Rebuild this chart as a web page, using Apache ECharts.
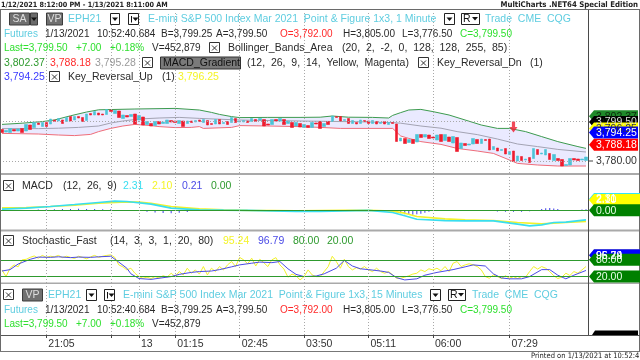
<!DOCTYPE html>
<html>
<head>
<meta charset="utf-8">
<script src="https://cdn.jsdelivr.net/npm/echarts@6.0.0/dist/echarts.min.js"></script>
<style>
html,body{margin:0;padding:0;background:#ffffff;overflow:hidden;}
#chart{width:640px;height:360px;}
</style>
</head>
<body>
<div id="chart"></div>
<script>
// ---------------- data ----------------
const barOpen = [
 3795.75,3794.5,3794.25,3795.75,3795.0,3796.25,3795.0,3798.0,3796.75,3799.0,
 3797.25,3799.25,3798.5,3800.5,3800.0,3800.5,3799.75,3802.25,3800.5,3802.25,
 3801.75,3800.25,3803.75,3803.0,3804.0,3803.5,3803.25,3805.5,3803.75,3805.0,
 3801.25,3802.75,3802.25,3803.5,3800.5,3802.0,3798.25,3798.75,3797.75,3799.75,
 3798.75,3798.75,3800.25,3800.0,3798.75,3800.0,3798.75,3800.0,3799.5,3800.5,
 3799.25,3800.25,3798.75,3798.5,3800.75,3798.75,3799.75,3799.25,3801.25,3799.5,
 3799.5,3800.0,3799.75,3800.75,3800.5,3800.75,3798.5,3798.25,3800.75,3800.0,
 3800.75,3798.75,3799.25,3797.5,3798.75,3796.75,3797.75,3796.75,3799.0,3799.75,
 3797.25,3799.75,3799.75,3802.25,3802.25,3800.25,3801.25,3798.75,3799.25,3798.75,
 3800.25,3800.0,3798.75,3799.75,3798.75,3799.75,3798.25,3799.25,3798.5,3790.0,
 3791.25,3789.25,3790.75,3789.5,3793.25,3792.0,3793.0,3792.0,3790.5,3793.25,
 3790.25,3792.0,3789.0,3791.75,3786.25,3788.75,3788.0,3788.5,3790.75,3788.75,
 3790.75,3791.0,3785.75,3786.5,3785.25,3786.25,3783.25,3785.0,3780.0,3782.25,
 3780.5,3781.75,3781.25,3785.75,3783.5,3783.0,3783.75,3780.25,3781.25,3780.75,
 3777.75,3778.0,3781.25,3781.0,3780.5,3780.25
];
const barClose = [
 3794.25,3795.25,3796.25,3795.0,3796.0,3794.25,3798.25,3795.75,3799.25,3798.25,
 3799.25,3797.25,3801.0,3799.75,3801.25,3798.75,3801.75,3800.0,3802.25,3801.5,
 3799.75,3803.5,3803.0,3804.75,3803.0,3803.0,3805.75,3804.75,3805.25,3801.75,
 3803.0,3802.0,3803.25,3798.5,3802.75,3798.0,3799.75,3797.5,3799.75,3798.5,
 3799.5,3800.5,3799.5,3799.25,3800.25,3797.25,3800.0,3799.25,3800.25,3799.75,
 3800.75,3798.0,3798.25,3800.75,3798.5,3799.25,3798.25,3801.75,3799.25,3800.0,
 3800.25,3799.25,3801.25,3799.75,3801.25,3797.5,3798.0,3800.75,3800.0,3801.25,
 3798.25,3800.0,3796.75,3799.25,3797.0,3798.25,3796.75,3799.25,3798.5,3796.25,
 3798.75,3798.25,3802.5,3801.75,3800.0,3800.75,3798.75,3800.25,3798.5,3800.5,
 3799.75,3798.75,3800.25,3798.5,3799.25,3798.5,3799.25,3798.75,3789.75,3791.5,
 3788.75,3790.75,3788.75,3793.25,3791.75,3793.25,3791.25,3791.5,3793.0,3789.75,
 3793.25,3789.75,3792.25,3784.75,3789.0,3787.75,3788.5,3791.25,3788.75,3791.0,
 3790.25,3785.5,3787.25,3785.0,3785.75,3783.5,3784.75,3779.75,3782.5,3780.25,
 3781.0,3779.25,3786.25,3783.25,3784.0,3785.75,3780.75,3783.25,3780.25,3777.5,
 3778.25,3781.25,3780.5,3780.25,3781.0,3782.0
];
// time-axis ticks (bar index) and their labels
const tickIndex = [11, 27, 34, 43, 59, 75, 91, 107, 126];
const tickLabels = ['21:05', '', '13', '01:15', '02:45', '03:50', '05:11', '06:00', '07:29'];
const priceGrid = [3800, 3780];
const priceAxisLabels = [3780];

// Bollinger bands [bar index, value]
const bbUpper = [[0,3798.3],[5,3798.9],[10,3799.7],[13,3800.5],[17,3802.6],[21,3804.5],[24,3805.6],[33,3806.0],
 [43,3806.3],[49,3805.5],[52,3804.3],[54,3803.3],[57,3802.2],[59,3801.7],[66,3801.8],[74,3801.8],[79,3801.9],
 [82,3802.5],[86,3801.9],[92,3801.8],[96,3801.5],[97,3802.8],[99,3804.2],[101,3805.5],[104,3805.8],[107,3804.7],
 [111,3803.0],[115,3800.5],[119,3798.0],[123,3796.3],[126,3796.3],[130,3794.7],[134,3792.2],[138,3789.7],
 [143,3787.2],[145,3786.3]];
const bbLower = [[0,3793.8],[9,3793.5],[14,3793.0],[18,3792.7],[22,3793.3],[24,3794.7],[27,3796.3],[30,3797.5],
 [33,3798.3],[37,3797.7],[39,3797.2],[43,3796.7],[47,3796.8],[49,3797.2],[50,3796.3],[57,3796.8],[59,3797.7],
 [66,3797.5],[74,3797.2],[79,3796.8],[84,3796.3],[97,3796.3],[99,3792.5],[101,3791.3],[104,3789.7],[109,3788.3],
 [113,3786.3],[118,3785.0],[122,3783.8],[126,3780.5],[128,3778.8],[133,3778.0],[138,3777.5],[145,3777.5]];
const bbMid = [[0,3796.2],[9,3796.2],[14,3796.4],[19,3796.8],[24,3797.5],[27,3799.0],[30,3800.0],[34,3801.0],
 [39,3801.5],[44,3801.8],[49,3801.3],[54,3800.9],[59,3800.5],[67,3800.2],[74,3800.0],[81,3799.8],[89,3799.6],
 [97,3799.2],[99,3798.9],[104,3797.5],[109,3796.4],[113,3794.7],[118,3793.2],[123,3791.0],[128,3788.5],
 [133,3787.2],[138,3785.8],[145,3784.5]];
const keyReversalDn = [[127, 3794.25]];

// MACD [bar index, value]
const macdLine = [[0,0.24],[6,0.45],[12,0.78],[18,1.18],[24,1.6],[28,1.88],[31,1.8],[37,1.27],[42,0.45],[49,0.1],
 [55,0.04],[61,0.0],[73,-0.24],[79,-0.2],[85,-0.1],[91,0.0],[97,-0.45],[100,-1.1],[103,-1.8],[110,-2.1],
 [115,-2.14],[122,-2.14],[128,-2.8],[131,-3.16],[134,-2.96],[137,-2.49],[140,-2.4],[145,-1.94]];
const macdSignal = [[0,0.5],[6,0.55],[12,0.78],[18,1.05],[24,1.46],[31,1.73],[34,1.67],[37,1.46],[42,0.78],
 [49,0.3],[55,0.1],[61,0.0],[73,-0.1],[85,0.0],[91,0.0],[97,-0.16],[100,-0.57],[103,-1.26],[110,-1.73],
 [115,-1.94],[122,-2.08],[128,-2.49],[134,-2.76],[140,-2.49],[145,-2.28]];
const macdHist = [[9,0.15],[11,0.2],[13,0.25],[15,0.3],[17,0.3],[19,0.35],[21,0.3],[23,0.3],[25,0.25],[27,0.2],
 [36,-0.3],[38,-0.45],[40,-0.55],[42,-0.6],[44,-0.5],[46,-0.35],
 [98,-0.4],[99,-0.6],[100,-0.8],[101,-0.9],[102,-0.9],[103,-0.8],[104,-0.7],[105,-0.5],[106,-0.3],
 [113,-0.15],[115,-0.15],[123,-0.25],[125,-0.3],[127,-0.3],[129,-0.3],[131,-0.2],
 [134,0.3],[135,0.45],[136,0.5],[137,0.4],[138,0.3],[144,0.15],[145,0.2]];

// Stochastic fast
const stochK = [44,20,50,62,55,80,82,89,94,86,96,89,93,91,96,88,93,89,85,93,
 89,84,91,96,89,93,96,98,89,62,55,44,50,32,20,14,18,13,20,15,
 23,18,32,20,38,26,50,32,44,29,56,26,50,38,56,44,62,74,56,89,
 80,66,86,58,82,70,56,80,88,62,47,18,29,23,8,20,44,26,20,
 20,38,56,93,74,50,82,56,44,52,47,56,44,38,50,38,32,38,26,14,
 14,18,23,29,32,44,38,48,44,50,41,56,38,68,74,56,62,66,62,
 56,44,20,14,26,20,13,23,14,20,13,20,18,38,56,47,56,50,38,23,
 13,18,32,24,38,32,44,56];
const stochD = [[0,40],[2,45],[4,65],[7,82],[9,90],[12,89],[14,91],[17,88],[19,90],[22,89],[24,91],[27,93],
 [29,72],[31,50],[32,30],[34,13],[37,10],[39,14],[42,20],[44,28],[47,35],[49,38],[52,40],[54,45],[57,55],
 [59,62],[62,68],[64,72],[67,70],[69,74],[71,48],[73,28],[75,20],[78,22],[80,30],[83,50],[85,78],[87,58],
 [89,48],[91,45],[94,40],[96,35],[98,16],[100,8],[103,12],[105,25],[108,35],[110,40],[112,45],[115,55],
 [117,62],[120,58],[122,30],[124,15],[126,12],[129,12],[131,20],[134,45],[136,45],[138,25],[140,12],
 [142,25],[145,42]];
const stochLevels = [80, 20];

// right-axis value tags
const mainTagValues = [3802.37, 3799.50, 3796.25, 3794.25, 3788.18];
const macdTagValues = [2.31, 2.10, 0.00];
const stochTagValues = [95.24, 96.79, 80.00, 20.00];

// ---------------- styles ----------------
const FONT = '"Liberation Sans", Arial, sans-serif';
const NARROW = '"Liberation Sans Narrow", "DejaVu Sans Condensed", "Liberation Sans", sans-serif';
const FS = 10.5;
const FQ = 10;
const C_UP = '#4cc4d6', C_DN = '#ee1c2e';
const C_CYAN_TXT = '#5fcde0', C_DARK = '#2a2a2a', C_RED = '#ff2a2a', C_LIME = '#2fe02f';
const C_GREEN = '#2e9a2e', C_BLUE = '#3a3aff', C_YEL = '#f4f428', C_GRAY = '#9a9a9a';

const chart = echarts.init(document.getElementById('chart'), null, {renderer: 'canvas'});
const cats = barOpen.map((_, i) => String(i));
const candleData = barOpen.map((o, i) => [o, barClose[i], Math.min(o, barClose[i]), Math.max(o, barClose[i])]);
const isTick = (idx) => tickIndex.indexOf(idx) >= 0;
const vGrid = tickIndex.map(i => ({xAxis: i}));
const dotted = {color: '#a8a8a8', type: [1, 2], width: 1};

const grids = [
  {left: 0, top: 11, width: 588, height: 162},
  {left: 0, top: 176, width: 588, height: 53},
  {left: 0, top: 232, width: 588, height: 51},
  {left: 0, top: 284, width: 588, height: 51}
].map(g => Object.assign({outerBoundsMode: 'none', containLabel: false, show: false}, g));

const xAxes = [0, 1, 2, 3].map(gi => ({
  type: 'category', gridIndex: gi, data: cats, boundaryGap: true,
  axisLine: {show: gi === 3, lineStyle: {color: '#555', width: 1}},
  axisTick: {show: gi === 3, alignWithLabel: true, interval: isTick, length: 3, lineStyle: {color: '#444'}},
  axisLabel: {show: gi === 3, interval: isTick, align: 'left', margin: 4, padding: [0, 0, 0, 2],
    color: '#333', fontSize: FS, fontFamily: FONT,
    formatter: (v, idx) => tickLabels[tickIndex.indexOf(idx)] || ''},
  splitLine: {show: false}
}));
const yAxes = [
  {type: 'value', gridIndex: 0, min: 3774, max: 3855, show: false},
  {type: 'value', gridIndex: 1, min: -3.8, max: 7.0, show: false},
  {type: 'value', gridIndex: 2, min: -3, max: 180, show: false},
  {type: 'value', gridIndex: 3, min: 0, max: 1, show: false}
];
const gridMarks = (extra) => ({silent: true, symbol: 'none', label: {show: false}, lineStyle: dotted,
  data: vGrid.concat(extra || [])});
const lineS = (data, color, xi, width, z) => ({type: 'line', data: data, xAxisIndex: xi, yAxisIndex: xi,
  symbol: 'none', silent: true, z: z || 2, lineStyle: {color: color, width: width || 1}, itemStyle: {color: color}});

const series = [
  {type: 'custom', xAxisIndex: 0, yAxisIndex: 0, silent: true, z: 1, data: [bbUpper[0]],
   renderItem: (params, api) => {
     const pts = bbUpper.map(p => api.coord(p)).concat(bbLower.slice().reverse().map(p => api.coord(p)));
     return {type: 'polygon', shape: {points: pts}, style: {fill: 'rgba(128,128,255,0.17)'}};
   }},
  Object.assign(lineS(bbLower, '#ef6d7a', 0), {markLine: gridMarks(priceGrid.map(v => ({yAxis: v})))}),
  lineS(bbUpper, '#3d9b4f', 0),
  lineS(bbMid, '#a3a3b3', 0),
  {type: 'candlestick', xAxisIndex: 0, yAxisIndex: 0, data: candleData, barWidth: 3, silent: true, z: 3,
   itemStyle: {color: C_UP, color0: C_DN, borderColor: C_UP, borderColor0: C_DN, borderWidth: 0.6}},
  {type: 'scatter', xAxisIndex: 0, yAxisIndex: 0, data: keyReversalDn, z: 4, silent: true,
   symbol: 'path://M3,0L7,0L7,5L10,5L5,10L0,5L3,5Z', symbolSize: [8, 11], symbolOffset: [0, '-50%'],
   itemStyle: {color: C_DN}},
  // MACD pane
  Object.assign({type: 'bar', xAxisIndex: 1, yAxisIndex: 1, data: macdHist, barWidth: 1, silent: true, z: 2,
   itemStyle: {color: '#3c3ce6'}}, {markLine: {silent: true, symbol: 'none', label: {show: false},
   data: [{yAxis: 0, lineStyle: {color: '#2e9a2e', type: 'solid', width: 1}}].concat(vGrid.map(v => Object.assign({lineStyle: dotted}, v)))}}),
  lineS(macdSignal, '#f2f22a', 1, 1.6, 3),
  lineS(macdLine, '#38def0', 1, 1.6, 3),
  // Stochastic pane
  Object.assign(lineS(stochK, '#f2f22a', 2, 1, 3), {markLine: {silent: true, symbol: 'none', label: {show: false},
   data: stochLevels.map(v => ({yAxis: v, lineStyle: {color: '#2e9a2e', type: 'solid', width: 1}}))
     .concat(vGrid.map(v => Object.assign({lineStyle: dotted}, v)))}}),
  lineS(stochD, '#4b4be6', 2, 1, 4),
  // 15-minute pane (empty)
  Object.assign(lineS([], '#000', 3), {markLine: gridMarks()})
];

chart.setOption({
  animation: false,
  backgroundColor: '#ffffff',
  grid: grids, xAxis: xAxes, yAxis: yAxes, series: series
});

// ---------------- decorations (header texts, tags, frame) ----------------
const G = [];
function txt(x, y, s, color, opts) {
  opts = opts || {};
  G.push({type: 'text', x: x, y: y, silent: true, z: 100,
    style: {text: s, fill: color, font: (opts.weight ? opts.weight + ' ' : '') + (opts.size || FS) + 'px ' + (opts.family || FONT),
      textAlign: opts.align || 'left', textVerticalAlign: 'middle', align: opts.align || 'left', verticalAlign: 'middle'}});
}
function rect(x, y, w, h, fill, stroke, z) {
  G.push({type: 'rect', silent: true, z: z || 90, shape: {x: x, y: y, width: w, height: h},
    style: {fill: fill, stroke: stroke || null, lineWidth: 1}});
}
function line(x1, y1, x2, y2, color, w, z) {
  G.push({type: 'line', silent: true, z: z || 95, shape: {x1: x1, y1: y1, x2: x2, y2: y2},
    style: {stroke: color, lineWidth: w || 1}});
}
function tri(cx, cy, color) {
  G.push({type: 'polygon', silent: true, z: 96, shape: {points: [[cx - 3, cy - 1.5], [cx + 3, cy - 1.5], [cx, cy + 2]]},
    style: {fill: color}});
}
function checkbox(x, y) {
  rect(x + 0.5, y - 5.5, 10, 10, '#fff', '#333');
  line(x + 3, y - 2.5, x + 8, y + 2.5, '#333');
  line(x + 8, y - 2.5, x + 3, y + 2.5, '#333');
}
function ddbox(x, y, w, kind) {
  rect(x + 0.5, y - 5.5, w, 11, '#fff', '#222');
  if (kind === 'bar') { line(x + 3.5, y - 3, x + 3.5, y + 3.5, '#111'); tri(x + w - 2.5, y, '#111'); }
  else if (kind === 'R') { txt(x + 2, y + 0.5, 'R', '#111'); tri(x + w - 4, y - 0.5, '#111'); }
  else tri(x + w / 2 + 0.5, y, '#111');
}
function grayBox(x, y, w, label) {
  rect(x + 0.5, y - 6, w, 12, '#707070', '#3c3c3c');
  txt(x + w / 2 + 0.5, y + 0.5, label, '#dedede', {align: 'center'});
}
function tag(y, label, bg, fg, x0, x1) {
  G.push({type: 'polygon', silent: true, z: 110, shape: {points: [[x0, y], [x0 + 5, y - 6], [x1, y - 6], [x1, y + 6], [x0 + 5, y + 6]]},
    style: {fill: bg}});
  G.push({type: 'text', x: x0 + 7, y: y + 0.5, silent: true, z: 111,
    style: {text: label, fill: fg, font: FS + 'px ' + FONT, textAlign: 'left', textVerticalAlign: 'middle', align: 'left', verticalAlign: 'middle'}});
}
function quoteLines(y2, y3) {
  const q = {size: FQ};
  txt(4, y2, 'Futures', C_CYAN_TXT, q);
  txt(45, y2, '1/13/2021', C_DARK, q);
  txt(97, y2, '10:52:40.684', C_DARK, q);
  txt(161, y2, 'B=3,799.25', C_DARK, q);
  txt(216, y2, 'A=3,799.50', C_DARK, q);
  txt(280, y2, 'O=3,792.00', C_RED, q);
  txt(343, y2, 'H=3,805.00', C_DARK, q);
  txt(402, y2, 'L=3,776.50', C_DARK, q);
  txt(460, y2, 'C=3,799.50', C_LIME, q);
  txt(4, y3, 'Last=3,799.50', C_LIME, q);
  txt(76, y3, '+7.00', C_LIME, q);
  txt(110, y3, '+0.18%', C_LIME, q);
  txt(152, y3, 'V=452,879', C_DARK, q);
}

// frame & separators
line(0, 9.5, 640, 9.5, '#6a6a6a');
line(0.5, 9.5, 0.5, 351, '#6a6a6a');
line(639.5, 9.5, 639.5, 351, '#6a6a6a');
line(588.5, 10, 588.5, 335, '#4a4a4a');
rect(0, 173, 640, 2, '#a9a9a9', null, 92);
rect(0, 229.5, 640, 2, '#a9a9a9', null, 92);
rect(0, 282.5, 640, 1.5, '#a9a9a9', null, 92);
line(588, 335.5, 640, 335.5, '#555');
line(0, 351.5, 640, 351.5, '#777');

// top caption
txt(1, 5, '1/12/2021 8:12:00 PM - 1/13/2021 8:11:00 AM', '#222', {size: 7.2, weight: 'bold', family: NARROW});
txt(638, 5, 'MultiCharts .NET64 Special Edition', '#222', {size: 7.8, weight: 'bold', family: NARROW, align: 'right'});

// main pane header
grayBox(9, 19, 20, 'SA');
rect(30.5, 13, 7, 12, '#6a6a6a', '#3c3c3c'); tri(34, 19, '#111');
grayBox(46, 19, 16, 'VP');
txt(68, 19, 'EPH21', C_CYAN_TXT);
ddbox(110, 19, 9);
ddbox(128, 19, 10, 'bar');
txt(148, 19, 'E-mini S&P 500 Index Mar 2021  Point & Figure 1x3, 1 Minute', C_CYAN_TXT);
ddbox(444, 19, 10);
ddbox(461, 19, 18, 'R');
txt(485, 19, 'Trade  CME  CQG', C_CYAN_TXT);
quoteLines(34, 48);
checkbox(209, 48);
txt(228, 48, 'Bollinger_Bands_Area', C_DARK);
txt(342, 48, '(20,  2,  -2,  0,  128,  128,  255,  85)', C_DARK);
txt(4, 63, '3,802.37', C_GREEN);
txt(50, 63, '3,788.18', C_RED);
txt(95, 63, '3,795.28', C_GRAY);
checkbox(142, 63);
rect(160.5, 57, 80, 12, '#7a7a7a', '#333');
txt(163, 63.5, 'MACD_Gradient', '#111');
txt(247, 63, '(12,  26,  9,  14,  Yellow,  Magenta)', C_DARK);
checkbox(418, 63);
txt(437, 63, 'Key_Reversal_Dn', C_DARK);
txt(530, 63, '(1)', C_DARK);
txt(4, 77, '3,794.25', C_BLUE);
checkbox(49, 77);
txt(68, 77, 'Key_Reversal_Up', C_DARK);
txt(162, 77, '(1)', C_DARK);
txt(178, 77, '3,796.25', C_YEL);

// MACD header
checkbox(3, 186);
txt(22, 186, 'MACD', C_DARK);
txt(63, 186, '(12,  26,  9)', C_DARK);
txt(123, 186, '2.31', '#38def0');
txt(152, 186, '2.10', C_YEL);
txt(182, 186, '0.21', '#4b4be6');
txt(211, 186, '0.00', C_GREEN);

// Stochastic header
checkbox(3, 241);
txt(22, 241, 'Stochastic_Fast', C_DARK);
txt(110, 241, '(14,  3,  3,  1,  20,  80)', C_DARK);
txt(223, 241, '95.24', C_YEL);
txt(258, 241, '96.79', '#4b4be6');
txt(293, 241, '80.00', C_GREEN);
txt(327, 241, '20.00', C_GREEN);

// 15-minute pane header
checkbox(3, 295);
grayBox(22, 295, 20, 'VP');
txt(48, 295, 'EPH21', C_CYAN_TXT);
ddbox(86, 295, 10);
ddbox(104, 295, 10, 'bar');
txt(123, 295, 'E-mini S&P 500 Index Mar 2021  Point & Figure 1x3, 15 Minutes', C_CYAN_TXT);
ddbox(430, 295, 10);
ddbox(448, 295, 17, 'R');
txt(472, 295, 'Trade  CME  CQG', C_CYAN_TXT);
quoteLines(310, 324);

// footer
txt(531, 356, 'Printed on 1/13/2021 at 10:52:41', '#222', {size: 7.5, family: NARROW});

// right price axis label
priceAxisLabels.forEach(v => {
  const y = chart.convertToPixel({yAxisIndex: 0}, v);
  line(588, y, 593, y, '#444');
  txt(596, y, v.toLocaleString('en-US', {minimumFractionDigits: 2}), '#333');
});
// value tags
const fmt = v => v.toLocaleString('en-US', {minimumFractionDigits: 2, maximumFractionDigits: 2});
const mainTagStyle = [['#1f8a2a', '#0b2a0b'], ['#000000', '#dddddd'], ['#ffff00', '#333333'], ['#0000ff', '#ffffff'], ['#ff0000', '#ffffff']];
mainTagValues.forEach((v, k) => tag(chart.convertToPixel({yAxisIndex: 0}, v), fmt(v), mainTagStyle[k][0], mainTagStyle[k][1], 589, 638));
const macdTagStyle = [['#33e6f5', '#ffffff'], ['#ffff00', '#ffffff'], ['#008000', '#e8ffe8']];
macdTagValues.forEach((v, k) => tag(chart.convertToPixel({yAxisIndex: 1}, v), fmt(v), macdTagStyle[k][0], macdTagStyle[k][1], 589, 640));
const stochTagStyle = [['#ffff00', '#ffffff'], ['#0000ff', '#ffffff'], ['#008000', '#e8ffe8'], ['#008000', '#e8ffe8']];
stochTagValues.forEach((v, k) => tag(chart.convertToPixel({yAxisIndex: 2}, v), fmt(v), stochTagStyle[k][0], stochTagStyle[k][1], 589, 640));
// clipped last-price tag of the 15-minute pane
G.push({type: 'polygon', silent: true, z: 110, shape: {points: [[592, 335], [595, 330.5], [638, 330.5], [638, 335]]}, style: {fill: '#000'}});

chart.setOption({graphic: {elements: G}});
</script>
</body>
</html>
